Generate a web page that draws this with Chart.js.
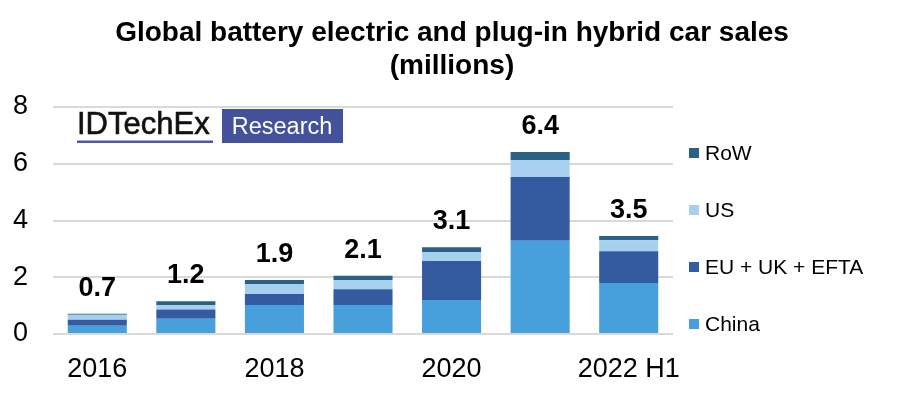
<!DOCTYPE html>
<html>
<head>
<meta charset="utf-8">
<script src="https://cdn.jsdelivr.net/npm/chart.js@4.4.1/dist/chart.umd.min.js"></script>
<style>
    body { margin: 0; background: #fff; }
    #evChart { display: block; }
</style>
</head>
<body>
<canvas id="evChart" width="904" height="396"></canvas>
<script>
// Data (millions of cars)
const years = ['2016', '2017', '2018', '2019', '2020', '2021', '2022 H1'];
const china = [0.29, 0.54, 1.02, 1.02, 1.20, 3.29, 1.80];
const euUkEfta = [0.21, 0.32, 0.39, 0.56, 1.37, 2.24, 1.12];
const us = [0.18, 0.16, 0.35, 0.32, 0.32, 0.60, 0.38];
const row = [0.03, 0.13, 0.14, 0.15, 0.17, 0.28, 0.15];
const totals = ['0.7', '1.2', '1.9', '2.1', '3.1', '6.4', '3.5'];
const yTicks = [0, 2, 4, 6, 8];

const FONT = 'Liberation Sans, Arial, sans-serif';

// Colors
const C_CHINA = '#47A0DB';
const C_EU = '#345BA0';
const C_US = '#A6D0EE';
const C_ROW = '#2A6186';

// Totals above each stack
const totalsPlugin = {
    id: 'totals',
    afterDatasetsDraw(chart) {
        const ctx = chart.ctx;
        const x = chart.scales.x;
        const y = chart.scales.y;
        ctx.save();
        ctx.font = 'bold 27px ' + FONT;
        ctx.fillStyle = '#000';
        ctx.textAlign = 'center';
        ctx.textBaseline = 'alphabetic';
        years.forEach((yr, i) => {
            const top = china[i] + euUkEfta[i] + us[i] + row[i];
            ctx.fillText(totals[i], x.getPixelForValue(i), y.getPixelForValue(top) - 18);
        });
        ctx.restore();
    }
};

// Legend on the right (RoW on top, China at bottom) + IDTechEx logo
const decoPlugin = {
    id: 'deco',
    afterDraw(chart) {
        const ctx = chart.ctx;
        ctx.save();

        // legend
        const items = [
            { label: 'RoW', color: C_ROW, y: 153 },
            { label: 'US', color: C_US, y: 210 },
            { label: 'EU + UK + EFTA', color: C_EU, y: 267 },
            { label: 'China', color: C_CHINA, y: 324 }
        ];
        ctx.font = '21px ' + FONT;
        ctx.textBaseline = 'middle';
        ctx.textAlign = 'left';
        items.forEach(it => {
            ctx.fillStyle = it.color;
            ctx.fillRect(689, it.y - 5, 10, 10);
            ctx.fillStyle = '#000';
            ctx.fillText(it.label, 705, it.y + 1);
        });

        // logo
        ctx.textBaseline = 'alphabetic';
        ctx.fillStyle = '#111';
        ctx.font = '31px ' + FONT;
        ctx.fillText('IDTechEx', 77, 134);
        ctx.strokeStyle = '#111';
        ctx.lineWidth = 0.6;
        ctx.strokeText('IDTechEx', 77, 134);
        ctx.fillStyle = '#4B5AA8';
        ctx.fillRect(77, 140.5, 136, 2.5);
        ctx.fillStyle = '#43529A';
        ctx.fillRect(222, 109, 121, 34);
        ctx.fillStyle = '#fff';
        ctx.font = '23.5px ' + FONT;
        ctx.textAlign = 'center';
        ctx.fillText('Research', 282, 134);

        ctx.restore();
    }
};

const ctx = document.getElementById('evChart').getContext('2d');

const mk = (label, data, color) => ({
    label: label,
    data: data,
    backgroundColor: color,
    borderWidth: 0,
    barPercentage: 1,
    categoryPercentage: 0.667
});

new Chart(ctx, {
    type: 'bar',
    data: {
        labels: years,
        datasets: [
            mk('China', china, C_CHINA),
            mk('EU + UK + EFTA', euUkEfta, C_EU),
            mk('US', us, C_US),
            mk('RoW', row, C_ROW)
        ]
    },
    options: {
        responsive: false,
        animation: false,
        devicePixelRatio: 1,
        layout: {
            padding: 0
        },
        plugins: {
            legend: { display: false },
            tooltip: { enabled: false },
            title: {
                display: true,
                text: ['Global battery electric and plug-in hybrid car sales', '(millions)'],
                color: '#000',
                font: { family: FONT, size: 28, weight: 'bold', lineHeight: '33px' },
                padding: { top: 17, bottom: 24 }
            }
        },
        scales: {
            x: {
                stacked: true,
                grid: { display: false },
                border: { display: false },
                afterFit: axis => { axis.height = 62; },
                ticks: {
                    color: '#000',
                    font: { family: FONT, size: 27 },
                    autoSkip: false,
                    maxRotation: 0,
                    padding: 11,
                    callback: (v, i) => (i % 2 === 0 ? years[i] : '')
                }
            },
            y: {
                stacked: true,
                min: 0,
                max: 8,
                afterBuildTicks: axis => { axis.ticks = yTicks.map(v => ({ value: v })); },
                afterFit: axis => { axis.width = 53; },
                grid: { color: '#D9D9D9', lineWidth: 2, drawTicks: false },
                border: { display: false },
                ticks: {
                    color: '#000',
                    font: { family: FONT, size: 27 },
                    padding: 25
                }
            },
            // empty right-hand axis: reserves the room the legend sits in
            side: {
                position: 'right',
                grid: { display: false },
                border: { display: false },
                ticks: { display: false },
                afterFit: axis => { axis.width = 231; }
            }
        }
    },
    plugins: [totalsPlugin, decoPlugin]
});
</script>
</body>
</html>
